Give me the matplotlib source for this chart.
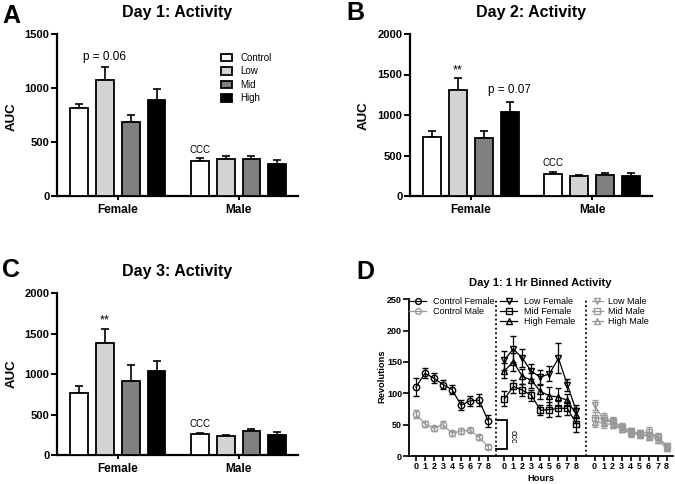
import numpy as np
import matplotlib
matplotlib.use('Agg')
import matplotlib.pyplot as plt
from matplotlib.patches import Patch
from matplotlib.lines import Line2D

plt.rcParams['font.family'] = ['Liberation Sans', 'DejaVu Sans']

# ---------------- data ----------------
groups = ['Female', 'Male']
treatments = ['Control', 'Low', 'Mid', 'High']
bar_colors = ['white', '#d4d4d4', '#808080', 'black']

day1_female = [812, 1074, 682, 889]
day1_female_err = [40, 117, 71, 99]
day1_male = [327, 346, 343, 299]
day1_male_err = [25, 24, 27, 34]

day2_female = [734, 1303, 713, 1039]
day2_female_err = [70, 153, 95, 116]
day2_male = [276, 247, 264, 247]
day2_male_err = [21, 17, 25, 33]

day3_female = [771, 1386, 911, 1035]
day3_female_err = [87, 177, 207, 128]
day3_male = [260, 231, 293, 252]
day3_male_err = [12, 12, 24, 37]

hours = [0, 1, 2, 3, 4, 5, 6, 7, 8]
ctrl_female = [110, 132, 124, 114, 106, 81, 88, 89, 56]
ctrl_female_err = [14, 8, 8, 7, 7, 8, 8, 10, 10]
ctrl_male = [67, 51, 44, 50, 36, 40, 41, 30, 15]
ctrl_male_err = [7, 5, 4, 6, 4, 5, 3, 4, 4]
low_female = [153, 171, 156, 135, 126, 131, 156, 113, 71]
low_female_err = [15, 21, 14, 12, 12, 12, 24, 10, 10]
mid_female = [91, 111, 105, 97, 73, 74, 76, 76, 51]
mid_female_err = [12, 10, 10, 9, 8, 12, 12, 10, 12]
high_female = [136, 150, 127, 121, 103, 96, 94, 89, 65]
high_female_err = [12, 15, 12, 12, 12, 14, 15, 10, 12]
low_male = [81, 58, 53, 44, 39, 35, 33, 30, 16]
low_male_err = [8, 8, 6, 5, 5, 5, 6, 5, 4]
mid_male = [60, 60, 56, 47, 40, 36, 38, 31, 15]
mid_male_err = [10, 8, 6, 5, 5, 5, 8, 5, 4]
high_male = [55, 52, 50, 43, 36, 34, 31, 26, 12]
high_male_err = [8, 7, 5, 5, 6, 5, 5, 5, 4]

# ---------------- layout helpers ----------------
W, H = 675, 484
fig = plt.figure(figsize=(W / 100, H / 100), dpi=100)


def px_axes(l, t, r, b):
    return fig.add_axes([l / W, 1 - b / H, (r - l) / W, (b - t) / H])


def ftext(x, y, s, **kw):
    return fig.text(x / W, 1 - y / H, s, **kw)


GROUP_GAP = 4.67
BAR_W = 0.69


def style_axes(ax, lw=1.6):
    for s in ['top', 'right']:
        ax.spines[s].set_visible(False)
    for s in ['left', 'bottom']:
        ax.spines[s].set_linewidth(lw)


def bar_panel(ax, fem, fem_err, male, male_err, ymax, yticks):
    style_axes(ax)
    for g, (vals, errs) in enumerate([(fem, fem_err), (male, male_err)]):
        for i in range(4):
            x = g * GROUP_GAP + i
            ax.bar(x, vals[i], width=BAR_W, color=bar_colors[i], edgecolor='black',
                   linewidth=1.3, zorder=3)
            ax.errorbar(x, vals[i], yerr=[[0], [errs[i]]], fmt='none', ecolor='black',
                        elinewidth=1.2, capsize=2.6, capthick=1.2, zorder=2)
    ax.set_xlim(-0.85, 3 + GROUP_GAP + 0.8)
    ax.set_ylim(0, ymax)
    ax.set_yticks(yticks)
    ax.set_yticklabels([str(t) for t in yticks], fontsize=8, fontweight='bold')
    ax.set_xticks([1.5, GROUP_GAP + 1.5])
    ax.set_xticklabels(groups, fontsize=8.5, fontweight='bold')
    ax.tick_params(axis='y', length=4.5, width=1.4, pad=1)
    ax.tick_params(axis='x', length=3, width=1.4, pad=3)


def annot(ax, g, i, vals, errs, text, off, fs):
    x = g * GROUP_GAP + i
    ax.annotate(text, xy=(x, vals[i] + errs[i]), xytext=(0, off),
                textcoords='offset points', ha='center', va='bottom', fontsize=fs)


# ---------------- Panel A ----------------
axA = px_axes(57, 34, 298, 196)
bar_panel(axA, day1_female, day1_female_err, day1_male, day1_male_err, 1500, [0, 500, 1000, 1500])
annot(axA, 0, 1, day1_female, day1_female_err, 'p = 0.06', 3.5, 8.5)
annot(axA, 1, 0, day1_male, day1_male_err, 'CCC', 2.5, 7)
handles = [Patch(facecolor=c, edgecolor='black', linewidth=1.3) for c in bar_colors]
axA.legend(handles, treatments, loc='upper left',
           bbox_to_anchor=(221 / W, 1 - 53 / H), bbox_transform=fig.transFigure,
           frameon=False, fontsize=7, handlelength=1.13, handleheight=0.82,
           handletextpad=0.9, labelspacing=0.35, borderpad=0, borderaxespad=0)

# ---------------- Panel B ----------------
axB = px_axes(410, 34, 651.7, 196)
bar_panel(axB, day2_female, day2_female_err, day2_male, day2_male_err, 2000,
          [0, 500, 1000, 1500, 2000])
annot(axB, 0, 1, day2_female, day2_female_err, '**', 1, 9)
annot(axB, 0, 3, day2_female, day2_female_err, 'p = 0.07', 4.5, 8.5)
annot(axB, 1, 0, day2_male, day2_male_err, 'CCC', 2.5, 7)

# ---------------- Panel C ----------------
axC = px_axes(57, 293.3, 298, 455)
bar_panel(axC, day3_female, day3_female_err, day3_male, day3_male_err, 2000,
          [0, 500, 1000, 1500, 2000])
annot(axC, 0, 1, day3_female, day3_female_err, '**', 1.5, 9)
annot(axC, 1, 0, day3_male, day3_male_err, 'CCC', 3, 7)

# ---------------- Panel D ----------------
axD = px_axes(409, 299.3, 673, 456)
style_axes(axD, lw=1.3)
seg_off = [0, 9.8, 19.8]
h = np.array(hours, dtype=float)
gray = '#999999'

series = [
    (0, ctrl_female, ctrl_female_err, 'o', 'black', 'Control Female'),
    (0, ctrl_male, ctrl_male_err, 'o', gray, 'Control Male'),
    (1, low_female, low_female_err, 'v', 'black', 'Low Female'),
    (1, mid_female, mid_female_err, 's', 'black', 'Mid Female'),
    (1, high_female, high_female_err, '^', 'black', 'High Female'),
    (2, low_male, low_male_err, 'v', gray, 'Low Male'),
    (2, mid_male, mid_male_err, 's', gray, 'Mid Male'),
    (2, high_male, high_male_err, '^', gray, 'High Male'),
]
leg_handles = []
for seg, vals, errs, mk, col, lab in series:
    axD.errorbar(h + seg_off[seg], vals, yerr=errs, fmt='-', marker=mk, color=col,
                 ecolor=col, mfc='none', mec=col, ms=4.6, mew=1.0, lw=0.9,
                 elinewidth=0.9, capsize=2.2, capthick=0.9, zorder=3)
    leg_handles.append(Line2D([0], [0], color=col, marker=mk, mfc='none', mec=col,
                              ms=4.2, mew=1.0, lw=0.9))

for xv in [8.9, 18.8]:
    axD.plot([xv, xv], [0, 250], color='black', lw=1.3, ls=(0, (1, 1.5)), zorder=2)

# significance bracket between control female and control male at hour 8
bx0, bx1 = 8.86, 10.04
by_top, by_bot = 57, 11
axD.plot([bx0, bx1, bx1, bx0], [by_top, by_top, by_bot, by_bot], color='black', lw=1.3,
         solid_joinstyle='miter', zorder=4)
axD.text(10.75, 31, 'ccc', rotation=270, ha='center', va='center', fontsize=6.5)

axD.set_xlim(-0.77, 28.5)
axD.set_ylim(0, 250)
xt = np.concatenate([h + o for o in seg_off])
axD.set_xticks(xt)
axD.set_xticklabels([str(v) for v in hours] * 3, fontsize=6.5, fontweight='bold')
axD.set_yticks([0, 50, 100, 150, 200, 250])
axD.set_yticklabels(['0', '50', '100', '150', '200', '250'], fontsize=6.5, fontweight='bold')
axD.tick_params(axis='y', length=4, width=1.2, pad=1)
axD.tick_params(axis='x', length=3.5, width=1.2, pad=1)

leg_kw = dict(loc='upper left', bbox_transform=fig.transFigure, frameon=False,
              fontsize=6.5, borderpad=0, borderaxespad=0, labelspacing=0.08, numpoints=1)
l1 = axD.legend(leg_handles[0:2], [s[5] for s in series[0:2]],
                bbox_to_anchor=(409 / W, 1 - 297.5 / H), handlelength=1.9,
                handletextpad=0.74, **leg_kw)
axD.add_artist(l1)
l2 = axD.legend(leg_handles[2:5], [s[5] for s in series[2:5]],
                bbox_to_anchor=(500 / W, 1 - 297.5 / H), handlelength=1.9,
                handletextpad=0.74, **leg_kw)
axD.add_artist(l2)
l3 = axD.legend(leg_handles[5:8], [s[5] for s in series[5:8]],
                bbox_to_anchor=(591.7 / W, 1 - 297.5 / H), handlelength=1.25,
                handletextpad=0.6, **leg_kw)

# ---------------- titles, axis labels, panel letters ----------------
ftext(177.5, 17.3, 'Day 1: Activity', ha='center', va='baseline', fontsize=11.5, fontweight='bold')
ftext(531, 17.3, 'Day 2: Activity', ha='center', va='baseline', fontsize=11.5, fontweight='bold')
ftext(177.5, 276, 'Day 3: Activity', ha='center', va='baseline', fontsize=11.5, fontweight='bold')
ftext(540, 285.7, 'Day 1: 1 Hr Binned Activity', ha='center', va='baseline', fontsize=8,
      fontweight='bold')

ftext(12, 117, 'AUC', rotation=90, ha='center', va='center', fontsize=9.5, fontweight='bold')
ftext(364, 116, 'AUC', rotation=90, ha='center', va='center', fontsize=9.5, fontweight='bold')
ftext(12, 374, 'AUC', rotation=90, ha='center', va='center', fontsize=9.5, fontweight='bold')
ftext(381.7, 376.7, 'Revolutions', rotation=90, ha='center', va='center', fontsize=6.7,
      fontweight='bold')
ftext(541, 481, 'Hours', ha='center', va='baseline', fontsize=6.7, fontweight='bold')

ftext(2, 22.7, 'A', ha='left', va='baseline', fontsize=18, fontweight='bold')
ftext(346, 20, 'B', ha='left', va='baseline', fontsize=18, fontweight='bold')
ftext(2, 276.7, 'C', ha='left', va='baseline', fontsize=18, fontweight='bold')
ftext(356, 279.3, 'D', ha='left', va='baseline', fontsize=18, fontweight='bold')

fig.savefig('out.png', dpi=100)
